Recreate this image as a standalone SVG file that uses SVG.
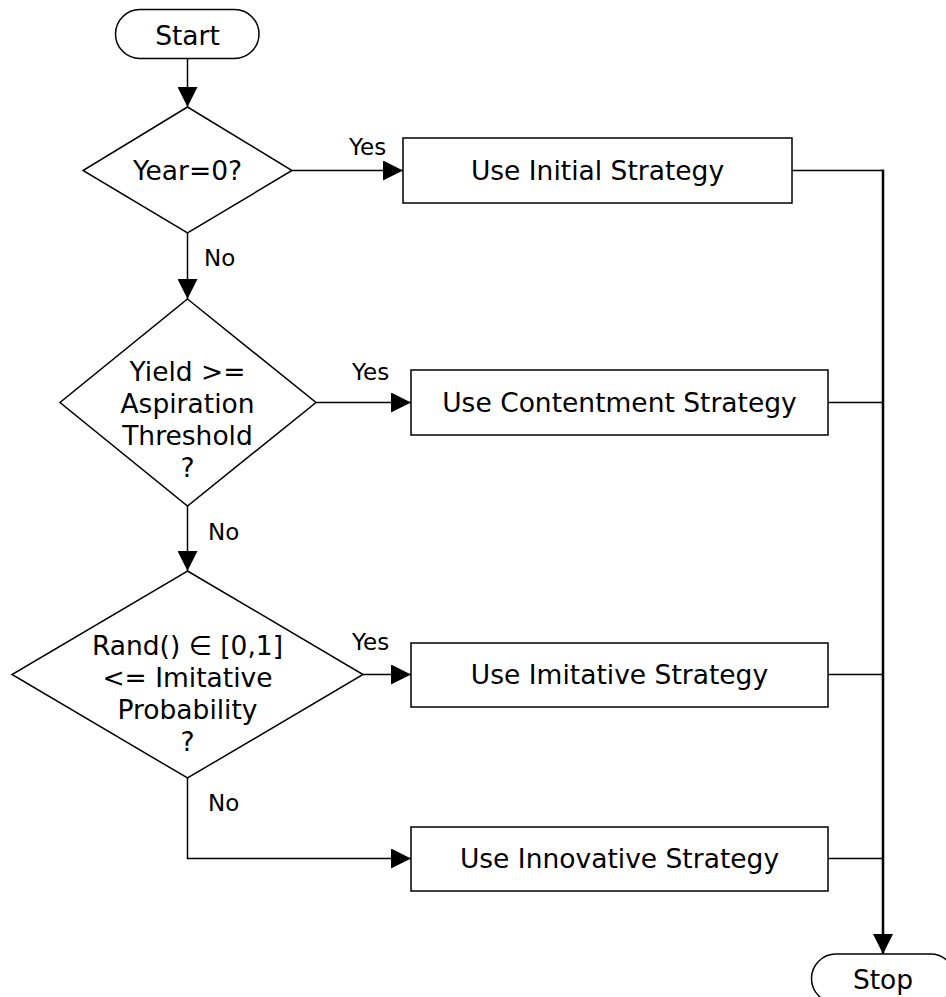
<svg xmlns="http://www.w3.org/2000/svg" width="946" height="997" viewBox="0 0 946 997">
<defs>
<style>
.shape{fill:#fff;stroke:#000;stroke-width:1.5}
.t{font-family:"DejaVu Sans",Verdana,sans-serif;font-size:26.5px;fill:#000;text-anchor:middle}
.lbl{font-family:"DejaVu Sans",Verdana,sans-serif;font-size:23px;fill:#000}
.c{fill:none;stroke:#000;stroke-width:1.5}
.cm{fill:none;stroke:#000;stroke-width:2.5}
</style>
<marker id="ah" viewBox="0 0 20 20" refX="20" refY="10" markerWidth="20" markerHeight="20" markerUnits="userSpaceOnUse" orient="auto">
<path d="M0,0 L20,10 L0,20 Z" fill="#000"/>
</marker>
</defs>
<g id="connectors">
<line class="c" x1="187.5" y1="58.5" x2="187.5" y2="107" marker-end="url(#ah)"/>
<line class="c" x1="292" y1="170.5" x2="403" y2="170.5" marker-end="url(#ah)"/>
<line class="c" x1="187.5" y1="233" x2="187.5" y2="299" marker-end="url(#ah)"/>
<line class="c" x1="316" y1="402.5" x2="411" y2="402.5" marker-end="url(#ah)"/>
<line class="c" x1="187.5" y1="506" x2="187.5" y2="571" marker-end="url(#ah)"/>
<line class="c" x1="363" y1="674.5" x2="411" y2="674.5" marker-end="url(#ah)"/>
<path class="c" d="M187.5,778 V858.5 H411" marker-end="url(#ah)"/>
<line class="c" x1="792" y1="170.5" x2="883" y2="170.5"/>
<line class="c" x1="828" y1="402.5" x2="883" y2="402.5"/>
<line class="c" x1="828" y1="674.5" x2="883" y2="674.5"/>
<line class="c" x1="828" y1="858.5" x2="883" y2="858.5"/>
<line class="cm" x1="883" y1="169.5" x2="883" y2="954" marker-end="url(#ah)"/>
<text class="lbl" x="349" y="155">Yes</text>
<text class="lbl" x="204" y="266">No</text>
<text class="lbl" x="352" y="380">Yes</text>
<text class="lbl" x="208" y="540">No</text>
<text class="lbl" x="352" y="650">Yes</text>
<text class="lbl" x="208" y="811">No</text>
</g>
<g id="start">
<rect class="shape" x="115.5" y="9.5" width="143.5" height="49" rx="24.5"/>
<text class="t" x="187.5" y="45">Start</text>
</g>
<g id="d1">
<polygon class="shape" points="187.5,107 292,170.5 187.5,233 83,170.5"/>
<text class="t" x="187.5" y="180">Year=0?</text>
</g>
<g id="d2">
<polygon class="shape" points="187.5,299 316,402.5 187.5,506 60,402.5"/>
<text class="t" x="187.5" y="381">Yield &gt;=</text>
<text class="t" x="187.5" y="413">Aspiration</text>
<text class="t" x="187.5" y="445">Threshold</text>
<text class="t" x="187.5" y="477">?</text>
</g>
<g id="d3">
<polygon class="shape" points="187.5,571 363,674.5 187.5,778 12,674.5"/>
<text class="t" x="187.5" y="655">Rand() ∈ [0,1]</text>
<text class="t" x="187.5" y="687">&lt;= Imitative</text>
<text class="t" x="187.5" y="719">Probability</text>
<text class="t" x="187.5" y="751">?</text>
</g>
<g id="b1">
<rect class="shape" x="403" y="138" width="389" height="65"/>
<text class="t" x="597.5" y="180">Use Initial Strategy</text>
</g>
<g id="b2">
<rect class="shape" x="411" y="370" width="417" height="65"/>
<text class="t" x="619.5" y="412">Use Contentment Strategy</text>
</g>
<g id="b3">
<rect class="shape" x="411" y="643" width="417" height="64"/>
<text class="t" x="619.5" y="684">Use Imitative Strategy</text>
</g>
<g id="b4">
<rect class="shape" x="411" y="827" width="417" height="64"/>
<text class="t" x="619.5" y="868">Use Innovative Strategy</text>
</g>
<g id="stop">
<rect class="shape" x="811.5" y="954" width="143.5" height="49" rx="24.5"/>
<text class="t" x="883" y="989">Stop</text>
</g>
</svg>
